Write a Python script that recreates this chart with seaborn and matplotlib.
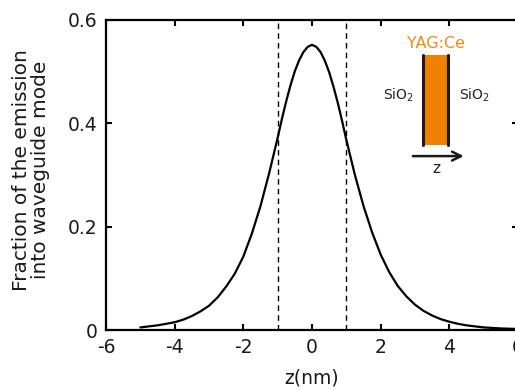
import matplotlib
matplotlib.use("Agg")
import matplotlib.pyplot as plt
import seaborn as sns
import pandas as pd
from matplotlib.patches import Rectangle

# ---- data ----
z_nm = [-5.0, -4.75, -4.5, -4.25, -4.0, -3.75, -3.5, -3.25, -3.0, -2.75, -2.5, -2.25,
        -2.0, -1.75, -1.5, -1.25, -1.0, -0.875, -0.75, -0.625, -0.5, -0.375, -0.25,
        -0.125, 0.0, 0.125, 0.25, 0.375, 0.5, 0.625, 0.75, 0.875, 1.0, 1.25, 1.5,
        1.75, 2.0, 2.25, 2.5, 2.75, 3.0, 3.25, 3.5, 3.75, 4.0, 4.25, 4.5, 4.75,
        5.0, 5.5, 6.0]
fraction = [0.005, 0.007, 0.009, 0.012, 0.015, 0.020, 0.027, 0.036, 0.047, 0.063,
            0.084, 0.109, 0.142, 0.187, 0.240, 0.303, 0.372, 0.409, 0.443, 0.474,
            0.501, 0.522, 0.538, 0.548, 0.552, 0.548, 0.538, 0.521, 0.499, 0.471,
            0.440, 0.405, 0.368, 0.300, 0.240, 0.189, 0.146, 0.112, 0.085, 0.065,
            0.049, 0.037, 0.028, 0.021, 0.016, 0.012, 0.009, 0.007, 0.005, 0.003,
            0.002]
layer_edges = [-1, 1]
x_ticks = [-6, -4, -2, 0, 2, 4, 6]
y_ticks = [0, 0.2, 0.4, 0.6]
y_tick_labels = ["0", "0.2", "0.4", "0.6"]

sns.set_style("ticks")
plt.rcParams["font.family"] = ["DejaVu Sans"]

fig = plt.figure(figsize=(5.15, 3.9), dpi=100)
ax = fig.add_axes([106 / 515, 1 - 330 / 390, 412 / 515, 310 / 390])

df = pd.DataFrame({"z": z_nm, "frac": fraction})
sns.lineplot(data=df, x="z", y="frac", color="black", linewidth=1.6, ax=ax)

for e in layer_edges:
    ax.axvline(e, color="black", linestyle=(0, (4, 3)), linewidth=1.0)

ax.set_xlim(-6, 6)
ax.set_ylim(0, 0.6)
ax.set_xticks(x_ticks)
ax.set_xticklabels([str(t) for t in x_ticks])
ax.set_yticks(y_ticks)
ax.set_yticklabels(y_tick_labels)
ax.tick_params(direction="in", length=4, width=1.5, labelsize=13.5,
               top=True, right=True, pad=6, colors="black")
ax.tick_params(labelcolor="#1a1a1a")
for s in ax.spines.values():
    s.set_linewidth(1.6)
    s.set_color("black")

ax.set_xlabel("z(nm)", fontsize=13.5, labelpad=8, color="#1a1a1a")
ax.set_ylabel("Fraction of the emission\ninto waveguide mode", fontsize=14.5,
              linespacing=0.95, color="#1a1a1a")
ax.yaxis.set_label_coords(-0.137, 0.516)

# ---- inset schematic ----
orange = "#F28A14"
t = ax.transAxes
ax.add_patch(Rectangle((0.769, 0.597), 0.061, 0.29, transform=t,
                       facecolor="#F08000", edgecolor="none", zorder=3))
ax.plot([0.769, 0.769], [0.597, 0.887], transform=t, color="#1a1a1a", lw=2.2, zorder=4)
ax.plot([0.830, 0.830], [0.597, 0.887], transform=t, color="#1a1a1a", lw=2.2, zorder=4)
ax.text(0.800, 0.925, "YAG:Ce", transform=t, color=orange, fontsize=11.5,
        ha="center", va="center")
ax.text(0.711, 0.758, "SiO$_2$", transform=t, color="#222222", fontsize=10,
        ha="center", va="center")
ax.text(0.895, 0.758, "SiO$_2$", transform=t, color="#222222", fontsize=10,
        ha="center", va="center")
ax.annotate("", xy=(0.875, 0.561), xytext=(0.738, 0.561), xycoords=t,
            arrowprops=dict(arrowstyle="->", color="#1a1a1a", lw=1.8,
                            mutation_scale=16))
ax.text(0.803, 0.522, "z", transform=t, color="#222222", fontsize=11,
        ha="center", va="center")

fig.savefig("out.png", dpi=100)
